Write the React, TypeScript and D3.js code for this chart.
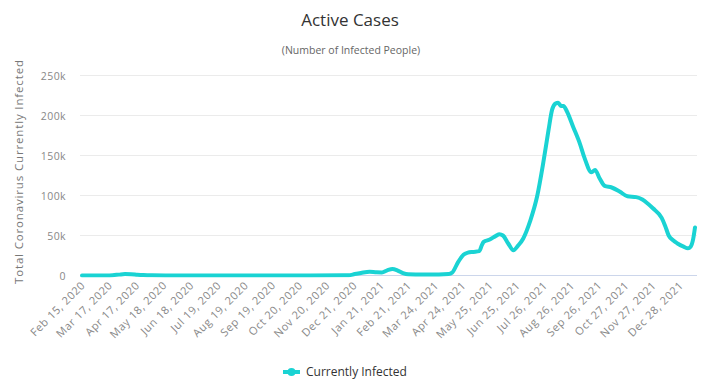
import React from "react";
import * as d3 from "d3";

// Daily active-case readings (date, currently infected)
const dates = [
  "2020-02-15", "2020-03-01", "2020-03-14", "2020-03-21", "2020-03-28", "2020-04-04",
  "2020-04-11", "2020-04-18", "2020-04-25", "2020-05-05", "2020-05-20", "2020-07-01",
  "2020-09-01", "2020-11-01", "2020-12-15", "2020-12-22", "2020-12-29", "2021-01-08",
  "2021-01-16", "2021-01-22", "2021-01-28", "2021-02-03", "2021-02-09", "2021-02-15",
  "2021-02-21", "2021-03-10", "2021-03-28", "2021-04-08", "2021-04-12", "2021-04-19",
  "2021-04-25", "2021-04-30", "2021-05-06", "2021-05-13", "2021-05-16", "2021-05-18",
  "2021-05-25", "2021-06-01", "2021-06-05", "2021-06-09", "2021-06-15", "2021-06-21",
  "2021-06-26", "2021-07-02", "2021-07-10", "2021-07-18", "2021-07-25", "2021-07-31",
  "2021-08-04", "2021-08-08", "2021-08-11", "2021-08-14", "2021-08-17", "2021-08-21",
  "2021-08-28", "2021-09-05", "2021-09-10", "2021-09-18", "2021-09-22", "2021-09-27",
  "2021-10-03", "2021-10-11", "2021-10-20", "2021-10-29", "2021-11-08", "2021-11-15",
  "2021-11-21", "2021-11-27", "2021-12-07", "2021-12-11", "2021-12-15", "2021-12-20",
  "2021-12-25", "2022-01-01", "2022-01-06", "2022-01-09", "2022-01-12", "2022-01-14",
];

const activeCases = [
  20, 25, 60, 350, 1100, 1800,
  1700, 1000, 500, 200, 80, 100,
  120, 150, 250, 1800, 3200, 4800,
  4000, 3900, 6500, 8200, 6200, 3000,
  1500, 1200, 1200, 1800, 3500, 17000,
  26000, 28500, 29500, 30500, 38000, 42000,
  45000, 49500, 51500, 50000, 40000, 31500,
  37000, 46000, 68000, 99000, 141000, 182000,
  207000, 215000, 216000, 212000, 212000, 205000,
  186000, 164000, 147000, 129000, 132000, 122000,
  112000, 110000, 105000, 99000, 98000, 95000,
  90000, 84000, 72000, 62000, 50000, 44000,
  40000, 36000, 34000, 36000, 46000, 60000,
];

const xTickDates = [
  "2020-02-15", "2020-03-17", "2020-04-17", "2020-05-18", "2020-06-18", "2020-07-19",
  "2020-08-19", "2020-09-19", "2020-10-20", "2020-11-20", "2020-12-21", "2021-01-21",
  "2021-02-21", "2021-03-24", "2021-04-24", "2021-05-25", "2021-06-25", "2021-07-26",
  "2021-08-26", "2021-09-26", "2021-10-27", "2021-11-27", "2021-12-28",
];

const yTicks = [0, 50000, 100000, 150000, 200000, 250000];

const TITLE = "Active Cases";
const SUBTITLE = "(Number of Infected People)";
const Y_TITLE = "Total Coronavirus Currently Infected";
const SERIES_NAME = "Currently Infected";

const W = 701;
const H = 380;
const FONT = "'Open Sans', 'DejaVu Sans', sans-serif";
const LINE_COLOR = "#1ad3d3";

export default function App() {
  const parse = d3.utcParse("%Y-%m-%d");
  const points = dates.map((d, i) => ({ date: parse(d) as Date, value: activeCases[i] }));

  const plotLeft = 80;
  const plotRight = 697;
  const plotTop = 75.5;
  const plotBottom = 275.5;

  const x = d3
    .scaleUtc()
    .domain([points[0].date, points[points.length - 1].date])
    .range([82, 695]);
  const y = d3.scaleLinear().domain([0, 250000]).range([plotBottom, plotTop]);

  const line = d3
    .line<{ date: Date; value: number }>()
    .x((d) => x(d.date))
    .y((d) => y(d.value))
    .curve(d3.curveMonotoneX);

  const fmtTick = d3.utcFormat("%b %-d, %Y");
  const fmtY = (v: number) => (v === 0 ? "0" : `${v / 1000}k`);

  return (
    <svg
      width={W}
      height={H}
      style={{ position: "absolute", left: 0, top: 0, background: "#fff" }}
      fontFamily={FONT}
    >
      <rect width={W} height={H} fill="#fff" />
      <text x={350} y={26} textAnchor="middle" fontSize={17} fill="#333">
        {TITLE}
      </text>
      <text x={351} y={54} textAnchor="middle" fontSize={10.5} fill="#666">
        {SUBTITLE}
      </text>

      {/* horizontal gridlines */}
      {yTicks.map((t) =>
        t === 0 ? null : (
          <line key={t} x1={plotLeft} x2={plotRight} y1={y(t)} y2={y(t)} stroke="#ebebeb" />
        )
      )}
      <line x1={plotLeft} x2={plotRight} y1={plotBottom} y2={plotBottom} stroke="#ccd6eb" />

      {/* y axis labels */}
      {yTicks.map((t) => (
        <text key={t} x={66} y={y(t) + 4} textAnchor="end" fontSize={10.5} fill="#888" letterSpacing={0.4}>
          {fmtY(t)}
        </text>
      ))}
      <text
        transform={`translate(23, ${172}) rotate(-90)`}
        textAnchor="middle"
        fontSize={11.5}
        fill="#777"
        textLength={224}
        lengthAdjust="spacing"
      >
        {Y_TITLE}
      </text>

      {/* x axis labels */}
      {xTickDates.map((d) => {
        const px = x(parse(d) as Date);
        return (
          <text
            key={d}
            transform={`translate(${px + 4}, ${286}) rotate(-45)`}
            textAnchor="end"
            fontSize={11}
            fill="#888"
            letterSpacing={0.6}
          >
            {fmtTick(parse(d) as Date)}
          </text>
        );
      })}

      <defs>
        <clipPath id="plot-clip">
          <rect x={plotLeft - 2} y={plotTop - 10} width={plotRight - plotLeft + 4} height={plotBottom - plotTop + 12} />
        </clipPath>
      </defs>
      <path
        d={line(points) ?? ""}
        fill="none"
        stroke={LINE_COLOR}
        strokeWidth={4}
        strokeLinejoin="round"
        strokeLinecap="round"
        clipPath="url(#plot-clip)"
      />

      {/* legend */}
      <g>
        <line x1={283} x2={300} y1={372} y2={372} stroke={LINE_COLOR} strokeWidth={4} />
        <circle cx={291.5} cy={372} r={4} fill={LINE_COLOR} />
        <text x={306} y={376} fontSize={12} fill="#333">
          {SERIES_NAME}
        </text>
      </g>
    </svg>
  );
}
